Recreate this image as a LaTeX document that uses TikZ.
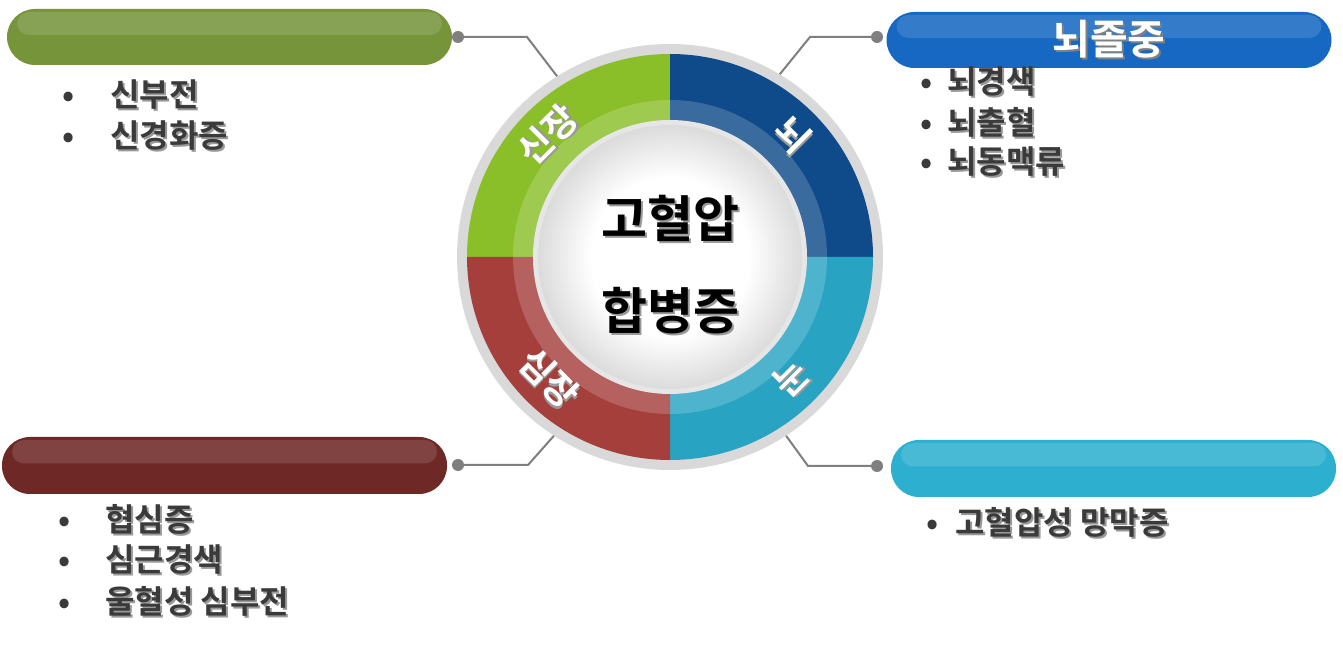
\documentclass[tikz,border=0pt]{standalone}
\usepackage{fontspec}
\setmainfont{Noto Sans CJK KR}[BoldFont={Noto Sans CJK KR Bold}]
\usetikzlibrary{positioning, calc}
\definecolor{kidneyGreen}{HTML}{8BBF2A}
\definecolor{brainBlue}{HTML}{0F4B8A}
\definecolor{eyeTeal}{HTML}{28A3C1}
\definecolor{heartRed}{HTML}{A43F3C}
\definecolor{pillGreen}{HTML}{76953B}
\definecolor{pillBlue}{HTML}{1668C3}
\definecolor{pillRed}{HTML}{6E2825}
\definecolor{pillTeal}{HTML}{2DB0D0}
\definecolor{ringGray}{HTML}{D9D9D9}
\definecolor{rimGray}{HTML}{E6E6E6}
\definecolor{linkGray}{HTML}{7F7F7F}
\definecolor{itemGray}{HTML}{3A3A3A}
\pgfdeclareradialshading{discShade}{\pgfpoint{0bp}{0bp}}{color(0bp)=(white); color(15bp)=(white); color(25bp)=(black!14); color(50bp)=(black!14)}
\newcommand{\shtext}[2][black!40]{\makebox[0pt][l]{\hspace{2pt}\raisebox{-2pt}{\textcolor{#1}{#2}}}#2}
\tikzset{
  pill/.style={rectangle, rounded corners=28pt, minimum width=445pt,
               minimum height=56pt, inner sep=0pt,
               path picture={\fill[white, opacity=0.13, rounded corners=12pt]
                 ([xshift=10pt, yshift=-3pt]path picture bounding box.north west)
                 rectangle ([xshift=-10pt, yshift=2pt]path picture bounding box.east);}},
  knob/.style={circle, fill=linkGray, minimum size=12pt, inner sep=0pt},
  link/.style={draw=linkGray, line width=2pt},
  ringLabel/.style={text=white, font=\bfseries\fontsize{36}{36}\selectfont, inner sep=0pt},
  itemText/.style={anchor=west, text=itemGray, font=\bfseries\fontsize{32}{32}\selectfont,
                   inner sep=0pt},
}

\begin{document}
\begin{tikzpicture}[x=1pt, y=1pt]
    \fill[white] (0,0) rectangle (1343,647);
    \useasboundingbox (0,0) rectangle (1343,647);

    % wheel
    \node[circle, fill=ringGray, minimum size=426pt, inner sep=0pt] (ring) at (670,390) {};
    \fill[kidneyGreen] (ring.center) -- ++(90:203) arc[start angle=90, end angle=180, radius=203] -- cycle;
    \fill[brainBlue] (ring.center) -- ++(0:203) arc[start angle=0, end angle=90, radius=203] -- cycle;
    \fill[eyeTeal] (ring.center) -- ++(-90:203) arc[start angle=-90, end angle=0, radius=203] -- cycle;
    \fill[heartRed] (ring.center) -- ++(180:203) arc[start angle=180, end angle=270, radius=203] -- cycle;
    \fill[white, opacity=0.18, even odd rule] (ring.center) circle[radius=157] circle[radius=136];
    \fill[rimGray] (ring.center) circle[radius=137];
    \shade[shading=discShade] (ring.center) circle[radius=132];
    \node[font=\bfseries\fontsize{50}{92}\selectfont, align=center] (title) at (670,381)
          {\shtext{고혈압}\\\shtext{합병증}};

    \node[ringLabel, rotate=45] (kidLbl) at ($(ring.center)+(135:172)$) {\shtext{신장}};
    \node[ringLabel, rotate=-45] (brnLbl) at ($(ring.center)+(45:172)$) {\shtext{뇌}};
    \node[ringLabel, rotate=45] (eyeLbl) at ($(ring.center)+(-45:172)$) {\shtext{눈}};
    \node[ringLabel, rotate=-45] (hrtLbl) at ($(ring.center)+(-135:172)$) {\shtext{심장}};

    % pills
    \node[pill, fill=pillGreen] (pillKid) at (229.5,610) {};
    \node[pill, fill=pillBlue, text=white, font=\bfseries\fontsize{41}{41}\selectfont]
          (pillBrn) at (1109,607) {\shtext[black!50]{뇌졸중}};
    \node[pill, fill=pillRed, minimum height=57pt] (pillHrt) at (224.5,181.5) {};
    \node[pill, fill=pillTeal, minimum height=57pt] (pillEye) at (1113.5,178.5) {};

    \node[knob] (knobKid) at (458,610) {};
    \node[knob] (knobBrn) at (877,610) {};
    \node[knob] (knobHrt) at (458,182) {};
    \node[knob] (knobEye) at (877,181) {};

    \draw[link] (knobKid) -- ++(69,0) -- (ring.122);
    \draw[link] (knobBrn) -- ++(-67,0) -- (ring.59);
    \draw[link] (knobHrt) -- ++(70,0) -- (ring.-123);
    \draw[link] (knobEye) -- ++(-69,0) -- (ring.-57);

    % lists
    \foreach \t [count=\i] in {신부전, 신경화증}
      \node[itemText] (kid\i) at (62, 592-41*\i) {\makebox[48pt][l]{•}\shtext{\t}};
    \foreach \t [count=\i] in {뇌경색, 뇌출혈, 뇌동맥류}
      \node[itemText] (brn\i) at (920, 604-40*\i) {\makebox[27pt][l]{•}\shtext{\t}};
    \foreach \t [count=\i] in {협심증, 심근경색, 울혈성 심부전}
      \node[itemText] (hrt\i) at (58, 168-41*\i) {\makebox[47pt][l]{•}\shtext{\t}};
    \node[itemText] (eye1) at (926,124) {\makebox[29pt][l]{•}\shtext{고혈압성 망막증}};
  \end{tikzpicture}
\end{document}
